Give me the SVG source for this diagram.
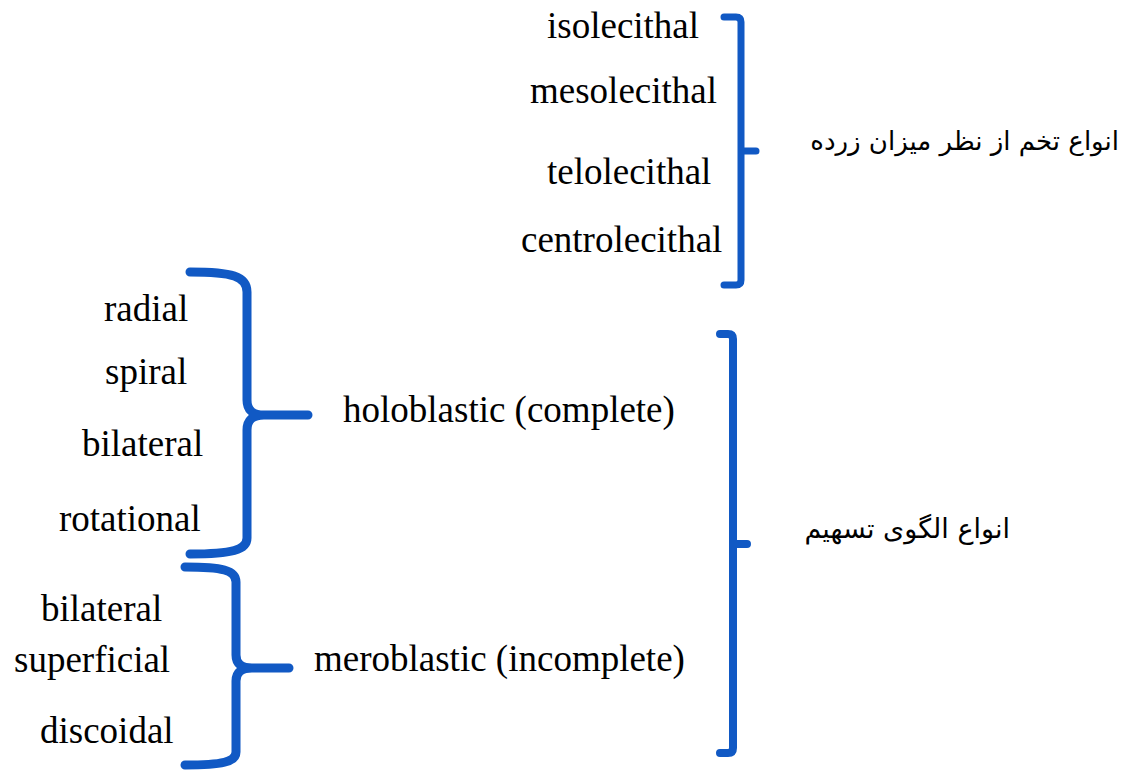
<svg xmlns="http://www.w3.org/2000/svg" width="1122" height="770" viewBox="0 0 1122 770">
<style>
.t{font-family:"Liberation Serif","Times New Roman",serif;font-size:37px;fill:#000}
.fa{font-family:"DejaVu Sans","Noto Sans",sans-serif;fill:#000}
.br{fill:none;stroke:#1159C4;stroke-linecap:round;stroke-linejoin:round}
</style>
<rect width="1122" height="770" fill="#fff"/>
<g id="connectors">
<g id="brace-yolk"><path class="br" stroke-width="7" d="M724,17 H736 Q741,17 741,22 V280 Q741,285 736,285 H724 M741,151 H756"/></g>
<g id="brace-cleavage"><path class="br" stroke-width="8" d="M720,334 H728 Q733,334 733,339 V748 Q733,753 728,753 H720 M733,544 H747"/></g>
<g id="brace-holo"><path class="br" stroke-width="9" d="M190,272 C232,272 247,276 247,292 V400 Q247,415 264,415 H308 M264,415 Q247,415 247,430 V538 C247,550 232,554 190,554"/></g>
<g id="brace-mero"><path class="br" stroke-width="9" d="M185,567 C222,567 236,570 236,582 V655 Q236,668 252,668 H289 M252,668 Q236,668 236,681 V752 C236,762 222,765 185,765"/></g>
</g>
<g id="n-isolecithal"><text class="t" x="547" y="38">isolecithal</text></g>
<g id="n-mesolecithal"><text class="t" x="530" y="103">mesolecithal</text></g>
<g id="n-telolecithal"><text class="t" x="547" y="184">telolecithal</text></g>
<g id="n-centrolecithal"><text class="t" x="521" y="252">centrolecithal</text></g>
<g id="n-yolk"><text class="fa" font-size="26" x="1119" y="150" text-anchor="end">انواع تخم از نظر میزان زرده</text></g>
<g id="n-radial"><text class="t" x="104" y="321">radial</text></g>
<g id="n-spiral"><text class="t" x="105" y="384">spiral</text></g>
<g id="n-bilateral1"><text class="t" x="82" y="456">bilateral</text></g>
<g id="n-rotational"><text class="t" x="59" y="531">rotational</text></g>
<g id="n-holoblastic"><text class="t" x="343" y="422">holoblastic (complete)</text></g>
<g id="n-bilateral2"><text class="t" x="41" y="621">bilateral</text></g>
<g id="n-superficial"><text class="t" x="14" y="672">superficial</text></g>
<g id="n-discoidal"><text class="t" x="40" y="743">discoidal</text></g>
<g id="n-meroblastic"><text class="t" x="314" y="671">meroblastic (incomplete)</text></g>
<g id="n-cleavage"><text class="fa" font-size="27" x="1010" y="538" text-anchor="end">انواع الگوی تسهیم</text></g>
</svg>
